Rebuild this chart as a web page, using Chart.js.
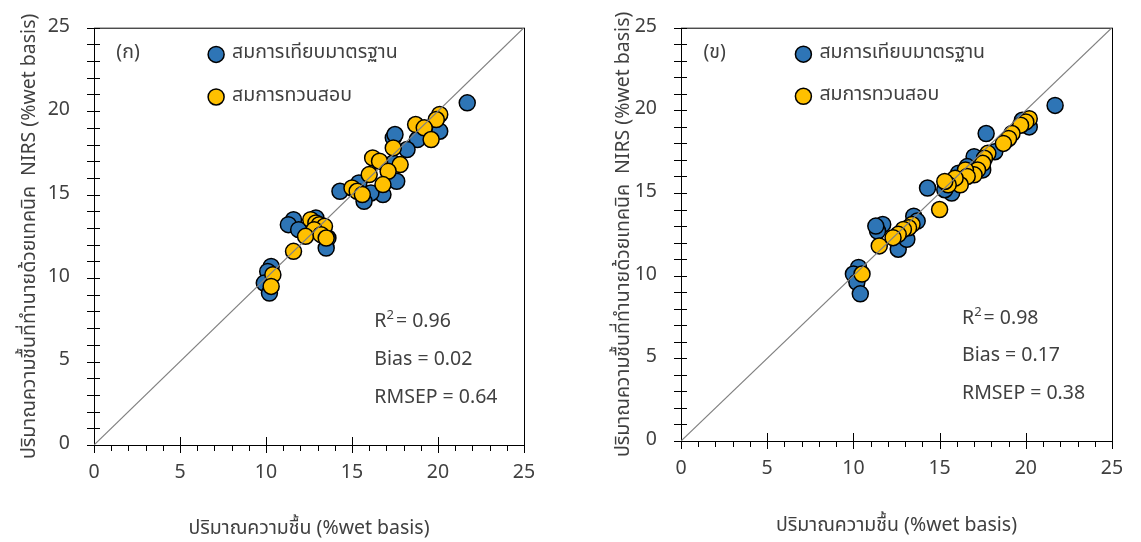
<!doctype html>
<html>
<head>
<meta charset="utf-8">
<style>
  body { margin: 0; background: #fff; overflow: hidden; }
  canvas { position: absolute; top: 0; }
  #chartA { left: 0; }
  #chartB { left: 570px; }
</style>
</head>
<body>
<canvas id="chartA" width="570" height="542"></canvas>
<canvas id="chartB" width="571" height="542"></canvas>
<script src="https://cdn.jsdelivr.net/npm/chart.js@4/dist/chart.umd.min.js"></script>
<script>
const seriesNames = ['สมการเทียบมาตรฐาน', 'สมการทวนสอบ'];
const xTitle = 'ปริมาณความชื้น (%wet basis)';
const yTitle = 'ปริมาณความชื้นที่ทำนายด้วยเทคนิค  NIRS (%wet basis)';
const axisMax = 25;

// (ก) calibration set
const calA_x = [21.7, 20.1, 18.8, 17.4, 17.5, 18.2, 17.6, 16.8, 16.1, 15.7, 14.3, 15.4, 17.4,
                11.6, 11.3, 11.9, 12.9, 13.3, 13.6, 13.5, 10.3, 10.1, 9.9, 10.2];
const calA_y = [20.5, 18.8, 18.3, 18.4, 18.6, 17.7, 15.8, 15.0, 15.1, 14.6, 15.2, 15.7, 16.9,
                13.5, 13.2, 12.9, 13.6, 13.0, 12.4, 11.8, 10.7, 10.4, 9.7, 9.1];
// (ก) validation set
const valA_x = [20.1, 19.9, 18.7, 19.2, 19.6, 17.4, 16.2, 16.6, 17.8, 17.1, 16.0, 16.8, 15.0, 15.3, 15.6,
                12.6, 12.9, 13.1, 13.4, 12.8, 12.3, 13.2, 13.5, 11.6, 10.4, 10.3];
const valA_y = [19.8, 19.5, 19.2, 19.0, 18.3, 17.8, 17.2, 17.0, 16.8, 16.4, 16.2, 15.6, 15.4, 15.2, 15.0,
                13.5, 13.3, 13.2, 13.1, 12.9, 12.5, 12.6, 12.4, 11.6, 10.2, 9.5];
// (ข) calibration set
const calB_x = [21.7, 20.2, 19.8, 17.7, 18.2, 17.5, 17.0, 16.6, 16.1, 15.9, 14.3, 15.7, 15.3,
                11.7, 11.4, 11.3, 13.5, 13.7, 13.0, 12.6, 13.1, 10.3, 10.0, 10.2, 10.4];
const calB_y = [20.3, 19.0, 19.4, 18.6, 17.5, 16.4, 17.2, 16.6, 16.2, 15.6, 15.3, 15.0, 15.2,
                13.1, 12.7, 13.0, 13.6, 13.3, 12.8, 11.6, 12.2, 10.5, 10.1, 9.6, 8.9];
// (ข) validation set
const valB_x = [20.2, 20.0, 19.7, 19.2, 19.0, 18.7, 17.8, 17.6, 17.5, 17.2, 17.0, 16.5, 16.6, 16.2,
                15.9, 15.5, 15.3, 15.0, 13.4, 13.2, 12.9, 12.6, 12.3, 11.5, 10.5];
const valB_y = [19.5, 19.3, 19.1, 18.6, 18.3, 18.0, 17.4, 17.1, 16.8, 16.4, 16.1, 16.4, 16.0, 15.5,
                15.9, 15.5, 15.7, 14.0, 13.1, 12.9, 12.8, 12.5, 12.3, 11.8, 10.1];

const statsA = ['0.96', '0.02', '0.64'];
const statsB = ['0.98', '0.17', '0.38'];

const blue = '#2E75B6';
const gold = '#FFC000';
const ink = '#404040';
const FONT = "'Noto Sans Thai', 'Leelawadee UI', 'Noto Sans', sans-serif";
const FS = 19.5;

function pts(xs, ys) {
  return xs.map((x, i) => ({ x: x, y: ys[i] }));
}

// box, crossing tick marks, legend, panel tag and statistics
const panelDecor = {
  id: 'panelDecor',
  beforeDatasetsDraw(chart, args, opts) {
    const { ctx, chartArea: a, scales: { x, y } } = chart;
    ctx.save();
    ctx.strokeStyle = '#000';
    ctx.lineWidth = 1;
    ctx.strokeRect(a.left + 0.5, a.top + 0.5, a.right - a.left, a.bottom - a.top);
    ctx.beginPath();
    for (let v = 0; v <= axisMax; v++) {
      const py = Math.round(y.getPixelForValue(v)) + 0.5;
      ctx.moveTo(a.left - 7, py);
      ctx.lineTo(a.left + 6, py);
      const px = Math.round(x.getPixelForValue(v)) + 0.5;
      if (v % 5 === 0) {
        ctx.moveTo(px, a.bottom - 8);
        ctx.lineTo(px, a.bottom + 8);
      } else {
        ctx.moveTo(px, a.bottom);
        ctx.lineTo(px, a.bottom + 6);
      }
    }
    ctx.stroke();
    ctx.restore();
  },
  afterDraw(chart, args, opts) {
    const { ctx, scales: { x, y } } = chart;
    ctx.save();
    ctx.font = FS + 'px ' + FONT;
    ctx.fillStyle = ink;
    ctx.textBaseline = 'middle';
    ctx.textAlign = 'left';

    ctx.fillText(opts.tag, x.getPixelForValue(1.3), y.getPixelForValue(23.4));

    // legend entries
    const legendY = [23.4, 20.85];
    chart.data.datasets.slice(0, 2).forEach((ds, i) => {
      const cx = x.getPixelForValue(7.1);
      const cy = y.getPixelForValue(legendY[i]);
      ctx.beginPath();
      ctx.arc(cx, cy, 8, 0, Math.PI * 2);
      ctx.fillStyle = ds.backgroundColor;
      ctx.fill();
      ctx.lineWidth = 1.5;
      ctx.strokeStyle = '#000';
      ctx.stroke();
      ctx.fillStyle = ink;
      ctx.fillText(ds.label, cx + 16, cy);
    });

    // statistics
    const sx = x.getPixelForValue(16.3);
    const yy = y.getPixelForValue(7.3);
    ctx.fillText('R', sx, yy);
    const rw = ctx.measureText('R').width;
    ctx.font = '13px ' + FONT;
    ctx.fillText('2', sx + rw, yy - 7);
    const sw = ctx.measureText('2').width;
    ctx.font = FS + 'px ' + FONT;
    ctx.fillText('= ' + opts.stats[0], sx + rw + sw + 2, yy);
    ctx.fillText('Bias = ' + opts.stats[1], sx, y.getPixelForValue(5.05));
    ctx.fillText('RMSEP = ' + opts.stats[2], sx, y.getPixelForValue(2.75));
    ctx.restore();
  }
};

function makePanel(id, cal, val, cfg) {
  return new Chart(document.getElementById(id), {
    type: 'scatter',
    data: {
      datasets: [
        { label: seriesNames[0], data: cal, backgroundColor: blue, borderColor: '#000',
          borderWidth: 1.5, pointRadius: 8, order: 2 },
        { label: seriesNames[1], data: val, backgroundColor: gold, borderColor: '#000',
          borderWidth: 1.5, pointRadius: 8, order: 1 },
        { label: '1:1', data: [{ x: 0, y: 0 }, { x: axisMax, y: axisMax }], showLine: true,
          borderColor: '#808080', borderWidth: 1.2, pointRadius: 0, order: 0 }
      ]
    },
    options: {
      responsive: false,
      animation: false,
      layout: { padding: { top: cfg.top, right: cfg.right, left: 0, bottom: 0 } },
      plugins: {
        legend: { display: false },
        tooltip: { enabled: false },
        panelDecor: { tag: cfg.tag, stats: cfg.stats }
      },
      scales: {
        x: {
          type: 'linear', min: 0, max: axisMax,
          border: { display: false },
          grid: { display: false, drawTicks: true, tickLength: 8 },
          ticks: { stepSize: 1, autoSkip: false, maxRotation: 0, padding: 9, color: ink,
                   font: { family: FONT, size: FS },
                   callback: v => (v % 5 === 0 ? v : '') },
          title: { display: true, text: xTitle, color: ink, font: { family: FONT, size: FS },
                   padding: { top: 0, bottom: cfg.xTitlePad } },
          afterFit: s => { s.height = cfg.xHeight; }
        },
        y: {
          type: 'linear', min: 0, max: axisMax,
          border: { display: false },
          grid: { display: false, drawTicks: true, tickLength: 8 },
          ticks: { stepSize: 1, autoSkip: false, padding: 16, color: ink,
                   font: { family: FONT, size: FS },
                   callback: v => (v % 5 === 0 ? v : '') },
          title: { display: true, text: yTitle, color: ink, font: { family: FONT, size: FS },
                   padding: { top: cfg.yTitlePad, bottom: 0 } },
          afterFit: s => { s.width = cfg.yWidth; }
        }
      }
    },
    plugins: [panelDecor]
  });
}

makePanel('chartA', pts(calA_x, calA_y), pts(valA_x, valA_y),
  { tag: '(ก)', stats: statsA, top: 20, right: 46, yWidth: 94, xHeight: 97, yTitlePad: 19, xTitlePad: 0 });
makePanel('chartB', pts(calB_x, calB_y), pts(valB_x, valB_y),
  { tag: '(ข)', stats: statsB, top: 15, right: 29, yWidth: 111, xHeight: 101, yTitlePad: 43, xTitlePad: 3 });
</script>
</body>
</html>
